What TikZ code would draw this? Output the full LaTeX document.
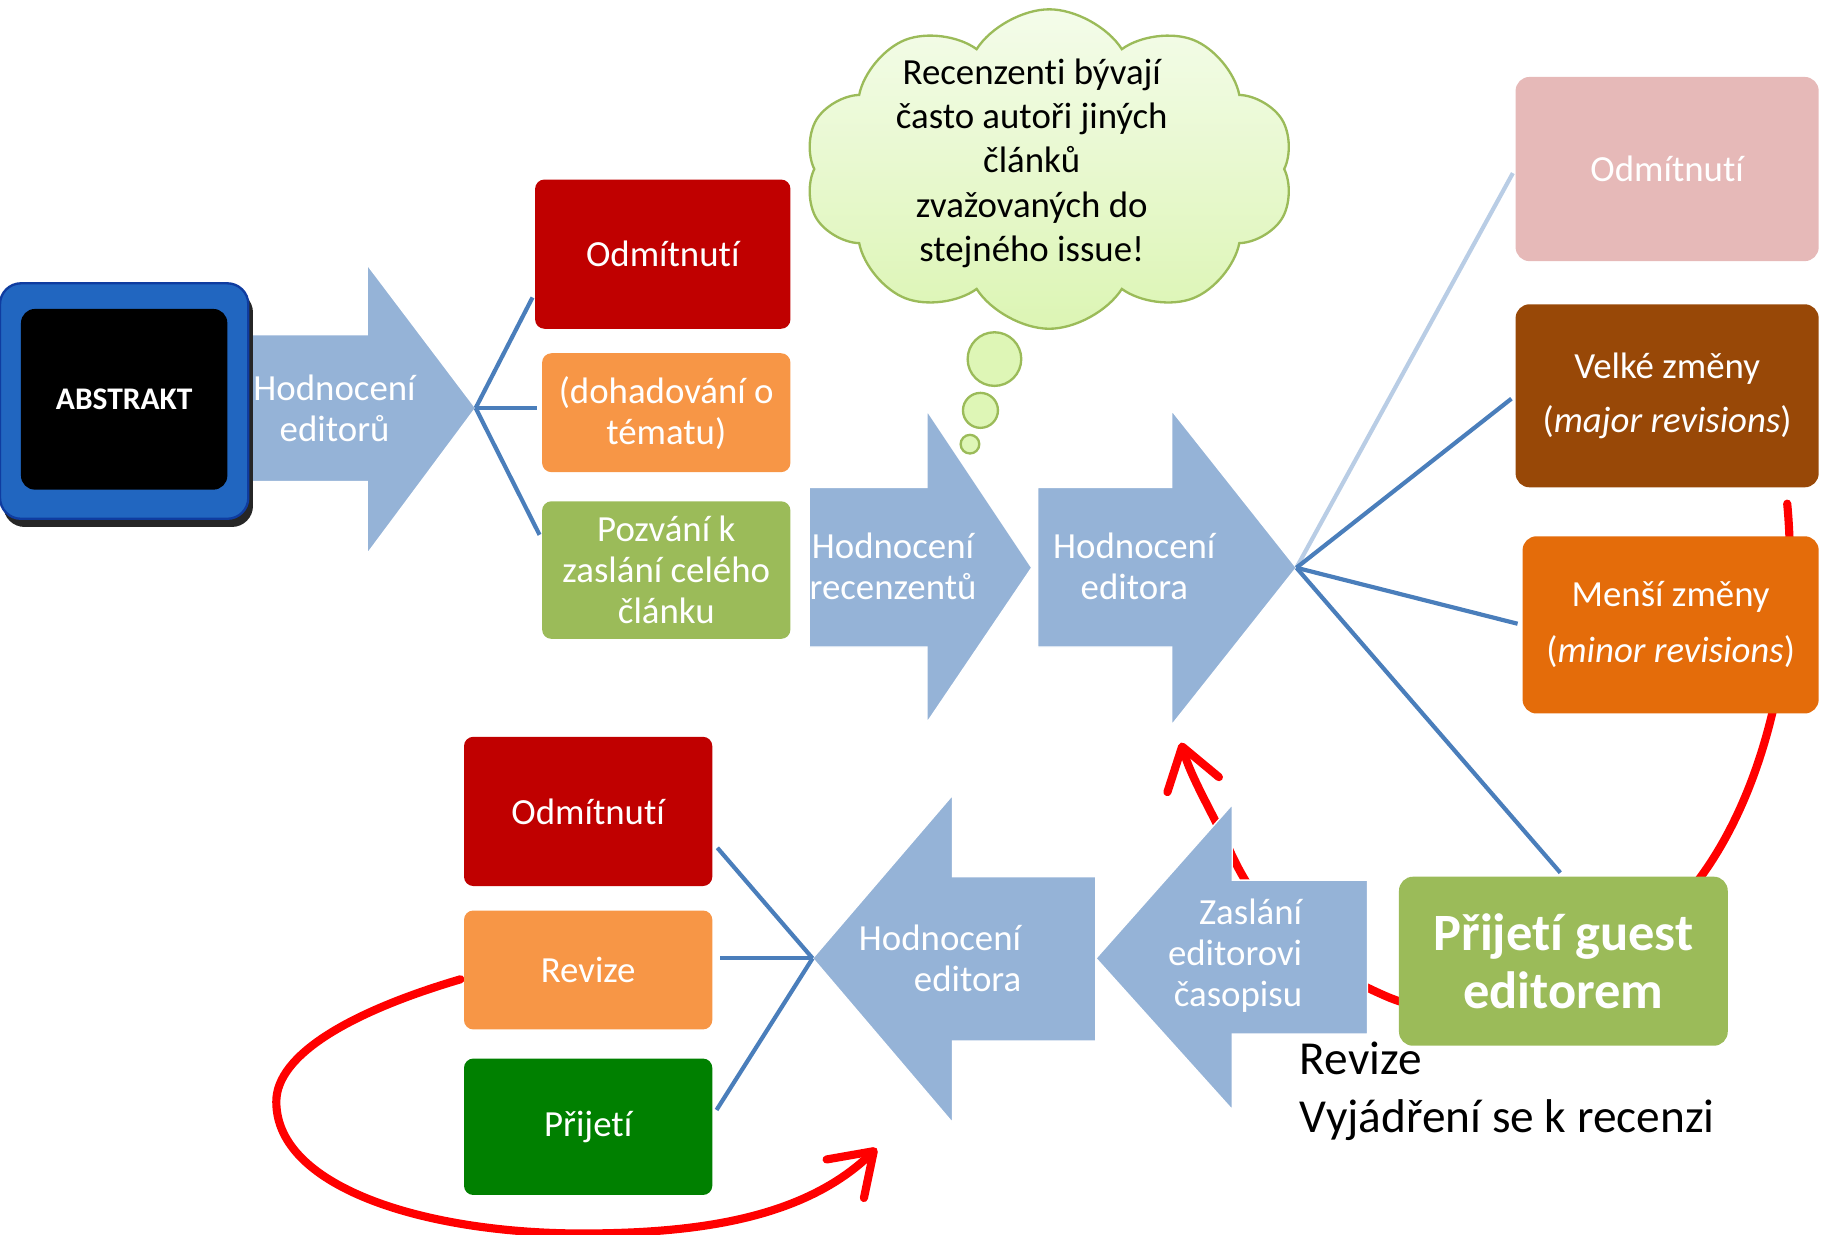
\documentclass[tikz,border=0pt]{standalone}
\usepackage{fontspec}
\setmainfont{Carlito}[Ligatures=CommonOff]
\usetikzlibrary{arrows.meta,shapes.symbols,calc}

\begin{document}
\begin{tikzpicture}[x=0.5pt, y=-0.5pt,
	box/.style={rounded corners=4pt, inner sep=0pt, text=white, align=center},
	bigarrow/.style={fill=arrowblue, draw=white, line width=0.6pt},
	arrowtext/.style={text=white, align=center, font=\fontsize{15.8}{17.5}\selectfont},
	connector/.style={linkblue, line width=1.8pt, shorten >=2pt},
	backflow/.style={red, line width=3.5pt, line cap=round, -{Straight Barb[length=17pt, width=23pt, round]}},
	bubble/.style={fill=bubblefill, draw=cloudgreen, line width=1pt},
	every node/.style={font=\fontsize{15.8}{17.5}\selectfont}
	]
	\definecolor{arrowblue}{RGB}{149,179,215}
	\definecolor{linkblue}{RGB}{74,126,187}
	\definecolor{palelink}{RGB}{185,205,229}
	\definecolor{rejectred}{RGB}{192,0,0}
	\definecolor{lightorange}{RGB}{247,150,70}
	\definecolor{okgreen}{RGB}{155,187,89}
	\definecolor{darkgreen}{RGB}{0,128,0}
	\definecolor{majorbrown}{RGB}{152,72,7}
	\definecolor{minororange}{RGB}{228,108,10}
	\definecolor{palepink}{RGB}{230,185,184}
	\definecolor{absblue}{RGB}{33,102,192}
	\definecolor{absdark}{RGB}{15,60,160}
	\definecolor{cloudgreen}{RGB}{155,187,89}
	\definecolor{cloudtop}{RGB}{244,252,234}
	\definecolor{cloudbottom}{RGB}{220,245,180}
	\definecolor{bubblefill}{RGB}{222,246,182}
	
	\useasboundingbox (0,0) rectangle (1568,1059);
	
	% Revision loops (behind everything)
	\draw[backflow] (1533,432) .. controls (1545,560) and (1510,700) .. (1440,775)
	.. controls (1370,850) and (1260,885) .. (1190,855)
	.. controls (1120,825) and (1080,785) .. (1055,730)
	.. controls (1040,697) and (1022,668) .. (1013,637);
	\draw[backflow] (395,840) .. controls (300,868) and (237,905) .. (237,945)
	.. controls (237,1020) and (370,1060) .. (510,1058)
	.. controls (600,1057) and (690,1045) .. (752,985);
	
	% Tips of the big arrows
	\coordinate (tipA) at (408,350);
	\coordinate (tipB) at (885,487);
	\coordinate (tipC) at (1112,487);
	\coordinate (tipD) at (940,822);
	\coordinate (tipE) at (697,822);
	
	% Big arrows
	\fill[bigarrow] (213,287) -- (315,287) -- (315,227) -- (tipA) -- (315,475) -- (315,413) -- (213,413) -- cycle;
	\fill[bigarrow] (694,418) -- (795,418) -- (795,352) -- (tipB) -- (795,620) -- (795,555) -- (694,555) -- cycle;
	\fill[bigarrow] (890,418) -- (1005,418) -- (1005,352) -- (tipC) -- (1005,622) -- (1005,555) -- (890,555) -- cycle;
	\fill[bigarrow] (1173,755) -- (1057,755) -- (1057,690) -- (tipD) -- (1057,952) -- (1057,887) -- (1173,887) -- cycle;
	\fill[bigarrow] (940,752) -- (817,752) -- (817,682) -- (tipE) -- (817,963) -- (817,893) -- (940,893) -- cycle;
	
	\node[arrowtext] (evalA) at (287,350) {Hodnocení\\editorů};
	\node[arrowtext] (evalB) at (766,486) {Hodnocení\\recenzentů};
	\node[arrowtext] (evalC) at (973,486) {Hodnocení\\editora};
	\node[arrowtext, align=right, anchor=east] (sendD) at (1124,820) {Zaslání\\editorovi\\časopisu};
	\node[arrowtext, align=right, anchor=east] (evalE) at (883,822) {Hodnocení\\editora};
	
	% Abstract
	\fill[black!85, rounded corners=9pt] (3,250) rectangle (217,452);
	\node[box, fill=absblue, draw=absdark, line width=1pt, rounded corners=9pt,
	minimum width=106.5pt, minimum height=101pt] (abstrakt) at (106.5,344) {};
	\node[box, fill=black, rounded corners=6pt, minimum width=88.5pt, minimum height=77.5pt,
	font=\bfseries\fontsize{13.5}{16}\selectfont] (abstext) at (106.5,342.5) {ABSTRAKT};
	
	% First decision
	\node[box, fill=rejectred, minimum width=109.5pt, minimum height=64pt] (odmA) at (568.5,218) {Odmítnutí};
	\node[box, fill=lightorange, minimum width=106.5pt, minimum height=51pt] (topic) at (571.5,354) {(dohadování o\\tématu)};
	\node[box, fill=okgreen, minimum width=106.5pt, minimum height=59pt] (invite) at (571.5,489) {Pozvání k\\zaslání celého\\článku};
	
	\draw[connector] (tipA) -- (odmA.197);
	\draw[connector] (tipA) -- (tipA -| topic.west);
	\draw[connector] (tipA) -- (invite.166);
	
	% Reviewers' verdict
	\node[box, fill=palepink, rounded corners=6pt, minimum width=130pt, minimum height=79pt] (odmC) at (1430,145) {Odmítnutí};
	\node[box, fill=majorbrown, rounded corners=6pt, minimum width=130pt, minimum height=78.5pt,
	font=\fontsize{15.8}{23.5}\selectfont] (major) at (1430,339.5) {Velké změny\\(\textit{major revisions})};
	\node[box, fill=minororange, rounded corners=6pt, minimum width=127pt, minimum height=76pt,
	font=\fontsize{15.8}{24}\selectfont] (minor) at (1433,536) {Menší změny\\(\textit{minor revisions})};
	\node[box, fill=okgreen, rounded corners=6pt, minimum width=141pt, minimum height=72.5pt,
	font=\bfseries\fontsize{22.5}{25}\selectfont] (guest) at (1341,824.5) {Přijetí guest\\editorem};
	
	\draw[connector, palelink] (tipC) -- (odmC.west);
	\draw[connector] (tipC) -- (major.west);
	\draw[connector] (tipC) -- (minor.west);
	\draw[connector] (tipC) -- (guest.north);
	
	% Final decision
	\node[box, fill=rejectred, minimum width=106.5pt, minimum height=64pt] (odmE) at (504.5,696) {Odmítnutí};
	\node[box, fill=lightorange, minimum width=106.5pt, minimum height=51pt] (revize) at (504.5,832) {Revize};
	\node[box, fill=darkgreen, minimum width=106.5pt, minimum height=58.5pt] (accept) at (504.5,966.5) {Přijetí};
	
	\draw[connector, shorten >=3pt] (tipE) -- (odmE.346);
	\draw[connector, shorten >=3pt] (tipE) -- (tipE -| revize.east);
	\draw[connector, shorten >=3pt] (tipE) -- (accept.5);
	
	% Thought cloud
	\node[cloud, cloud puffs=10, cloud puff arc=115, aspect=1.55, draw=cloudgreen, line width=1pt,
	top color=cloudtop, bottom color=cloudbottom, minimum width=210pt, minimum height=137pt,
	inner sep=0pt] (cloud) at (900,145) {};
	\draw[bubble] (853,308) circle [radius=23];
	\draw[bubble] (841,352) circle [radius=15];
	\draw[bubble] (832,381) circle [radius=8];
	\node[align=center, text=black, font=\fontsize{15.8}{19}\selectfont] (thought) at (885,140)
	{Recenzenti bývají\\často autoři jiných\\článků\\zvažovaných do\\stejného issue!};
	
	% Note
	\node[anchor=west, align=left, text=black, font=\fontsize{20.3}{25}\selectfont] (note) at (1108,936)
	{Revize\\Vyjádření se k recenzi};
	
\end{tikzpicture}
\end{document}
